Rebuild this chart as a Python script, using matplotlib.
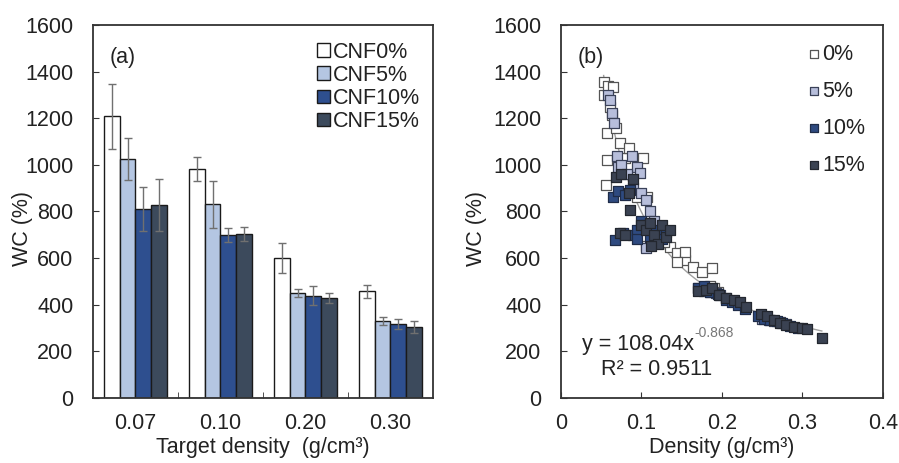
import numpy as np
import matplotlib
matplotlib.use("Agg")
import matplotlib.pyplot as plt

plt.rcParams['font.family'] = ['Liberation Sans', 'DejaVu Sans']

# ---------------- data: panel (a) ----------------
categories = ["0.07", "0.10", "0.20", "0.30"]
series_names = ["CNF0%", "CNF5%", "CNF10%", "CNF15%"]
wc_cnf0 = [1208, 981, 599, 457]
wc_cnf5 = [1026, 831, 450, 329]
wc_cnf10 = [811, 700, 439, 319]
wc_cnf15 = [829, 704, 429, 304]
err_cnf0 = [138, 52, 64, 29]
err_cnf5 = [90, 101, 17, 18]
err_cnf10 = [96, 31, 40, 21]
err_cnf15 = [112, 29, 21, 25]

# ---------------- data: panel (b) ----------------
d0 = [0.053, 0.053, 0.058, 0.065, 0.061, 0.064, 0.057, 0.068, 0.057, 0.056,
      0.073, 0.080, 0.084, 0.102, 0.094, 0.107, 0.106, 0.135, 0.144, 0.154,
      0.164, 0.175, 0.187, 0.154, 0.144, 0.120, 0.128, 0.190, 0.195, 0.185]
w0 = [1357, 1300, 1340, 1333, 1250, 1214, 1136, 1157, 1021, 914,
      1093, 1029, 1071, 1029, 864, 864, 650, 649, 621, 592,
      563, 542, 556, 628, 585, 690, 670, 470, 455, 480]
d5 = [0.058, 0.061, 0.064, 0.066, 0.069, 0.071, 0.075, 0.088, 0.094, 0.098,
      0.082, 0.090, 0.100, 0.105, 0.110, 0.106, 0.115, 0.170, 0.178, 0.185,
      0.192, 0.198, 0.205, 0.250, 0.258, 0.265, 0.272, 0.280]
w5 = [1300, 1279, 1221, 1180, 1036, 993, 1000, 1036, 993, 964,
      960, 900, 880, 850, 800, 643, 760, 470, 460, 455,
      450, 440, 430, 340, 335, 330, 325, 318]
d10 = [0.065, 0.071, 0.067, 0.077, 0.086, 0.080, 0.090, 0.095, 0.100, 0.105,
       0.110, 0.115, 0.120, 0.125, 0.130, 0.095, 0.170, 0.178, 0.185, 0.195,
       0.205, 0.212, 0.220, 0.228, 0.245, 0.252, 0.260, 0.268, 0.275, 0.285, 0.295]
w10 = [864, 886, 679, 707, 893, 870, 700, 720, 760, 740,
       690, 720, 700, 680, 710, 680, 470, 480, 455, 445,
       420, 410, 400, 380, 350, 340, 335, 330, 320, 310, 300]
d15 = [0.068, 0.075, 0.086, 0.073, 0.080, 0.090, 0.085, 0.100, 0.105, 0.110,
       0.115, 0.120, 0.125, 0.130, 0.135, 0.112, 0.170, 0.180, 0.188, 0.196,
       0.205, 0.215, 0.222, 0.230, 0.248, 0.256, 0.264, 0.272, 0.280, 0.290,
       0.300, 0.305, 0.324]
w15 = [950, 960, 807, 707, 700, 940, 880, 740, 720, 750,
       700, 660, 740, 690, 720, 650, 460, 465, 470, 440,
       430, 420, 410, 390, 360, 350, 335, 320, 315, 305,
       300, 295, 257]
scatter_names = ["0%", "5%", "10%", "15%"]
fit_a = 108.04
fit_b = -0.868

# ---------------- styling ----------------
face_colors = ["#ffffff", "#b4c6e2", "#2e4f8f", "#3c4a5c"]
sc_face = ["#ffffff", "#b7bedb", "#2e4a80", "#3a4252"]
sc_edge = ["#555555", "#3a4158", "#1f2c48", "#23272f"]
edge_col = "#1a1a1a"
spine_col = "#333333"
txt_col = "#222222"
fs = 15.5

fig = plt.figure(figsize=(8.99, 4.63), dpi=100)
ax1 = fig.add_axes([0.1034, 0.1404, 0.3782, 0.8056])
ax2 = fig.add_axes([0.6240, 0.1404, 0.3582, 0.8056])

# ---------------- panel (a) ----------------
vals = [wc_cnf0, wc_cnf5, wc_cnf10, wc_cnf15]
errs = [err_cnf0, err_cnf5, err_cnf10, err_cnf15]
x = np.arange(len(categories))
bw = 0.185
for i, (v, e) in enumerate(zip(vals, errs)):
    pos = x + (i - 1.5) * bw
    ax1.bar(pos, v, width=bw, color=face_colors[i], edgecolor=edge_col,
            linewidth=1.0, label=series_names[i], zorder=2)
    ax1.errorbar(pos, v, yerr=e, fmt='none', ecolor='#707070',
                 elinewidth=1.0, capsize=3, capthick=1.0, zorder=3)

ax1.set_xlim(-0.5, len(categories) - 0.5)
ax1.set_ylim(0, 1600)
ax1.set_yticks(np.arange(0, 1601, 200))
ax1.set_xticks(x)
ax1.set_xticklabels(categories)
ax1.set_xticks(x[:-1] + 0.5, minor=True)
ax1.tick_params(axis='x', which='major', length=0, pad=11, labelsize=fs, colors=txt_col)
ax1.tick_params(axis='x', which='minor', direction='in', length=4, color=spine_col)
ax1.tick_params(axis='y', direction='in', length=4, labelsize=fs, colors=txt_col, color=spine_col, pad=14)
ax1.set_ylabel("WC (%)", fontsize=fs, color=txt_col)
ax1.yaxis.set_label_coords(-0.176, 0.455)
ax1.set_xlabel("Target density  (g/cm³)", fontsize=fs, color=txt_col, labelpad=2)
ax1.text(0.05, 0.94, "(a)", transform=ax1.transAxes, fontsize=fs, color=txt_col,
         va='top', ha='left')
leg1 = ax1.legend(loc='upper right', fontsize=fs, frameon=False, handlelength=0.6,
                  handleheight=0.6, handletextpad=0.15, labelspacing=0.1,
                  borderaxespad=0.2, bbox_to_anchor=(1.0, 0.99))
for t in leg1.get_texts():
    t.set_color(txt_col)

# ---------------- panel (b) ----------------
xs = [d0, d5, d10, d15]
ys = [w0, w5, w10, w15]
xfit = np.linspace(min(min(s) for s in xs), max(max(s) for s in xs), 200)
ax2.plot(xfit, fit_a * xfit ** fit_b, color='#a0a0a0', lw=1.0, zorder=1)
for i in range(4):
    ax2.scatter(xs[i], ys[i], s=46, marker='s', facecolor=sc_face[i],
                edgecolor=sc_edge[i], linewidth=0.9,
                label=scatter_names[i], zorder=2 + i)
ax2.set_xlim(0, 0.4)
ax2.set_ylim(0, 1600)
ax2.set_xticks([0, 0.1, 0.2, 0.3, 0.4])
ax2.set_xticklabels(["0", "0.1", "0.2", "0.3", "0.4"])
ax2.set_yticks(np.arange(0, 1601, 200))
ax2.tick_params(axis='both', direction='in', length=4, labelsize=fs, colors=txt_col, color=spine_col)
ax2.tick_params(axis='x', pad=11)
ax2.tick_params(axis='y', pad=14)
ax2.set_ylabel("WC (%)", fontsize=fs, color=txt_col)
ax2.yaxis.set_label_coords(-0.23, 0.455)
ax2.set_xlabel("Density (g/cm³)", fontsize=fs, color=txt_col, labelpad=2)
ax2.text(0.053, 0.94, "(b)", transform=ax2.transAxes, fontsize=fs, color=txt_col,
         va='top', ha='left')
t_eq = ax2.text(0.065, 0.129, "y = 108.04x", transform=ax2.transAxes, fontsize=fs,
                color=txt_col, va='baseline', ha='left')
ax2.annotate("-0.868", xy=(1.0, 0.72), xycoords=t_eq, fontsize=10,
             color='#777777', va='bottom', ha='left')
ax2.text(0.124, 0.062, "R² = 0.9511", transform=ax2.transAxes, fontsize=fs,
         color=txt_col, va='baseline', ha='left')
leg2 = ax2.legend(loc='upper right', fontsize=fs, frameon=False, handlelength=0.6,
                  handletextpad=0.1, labelspacing=0.75, borderaxespad=0.2,
                  markerscale=0.85, scatterpoints=1, bbox_to_anchor=(0.985, 0.985))
for t in leg2.get_texts():
    t.set_color(txt_col)

for ax in (ax1, ax2):
    for sp in ax.spines.values():
        sp.set_color(spine_col)
        sp.set_linewidth(1.3)

fig.savefig("out.png", dpi=100)
